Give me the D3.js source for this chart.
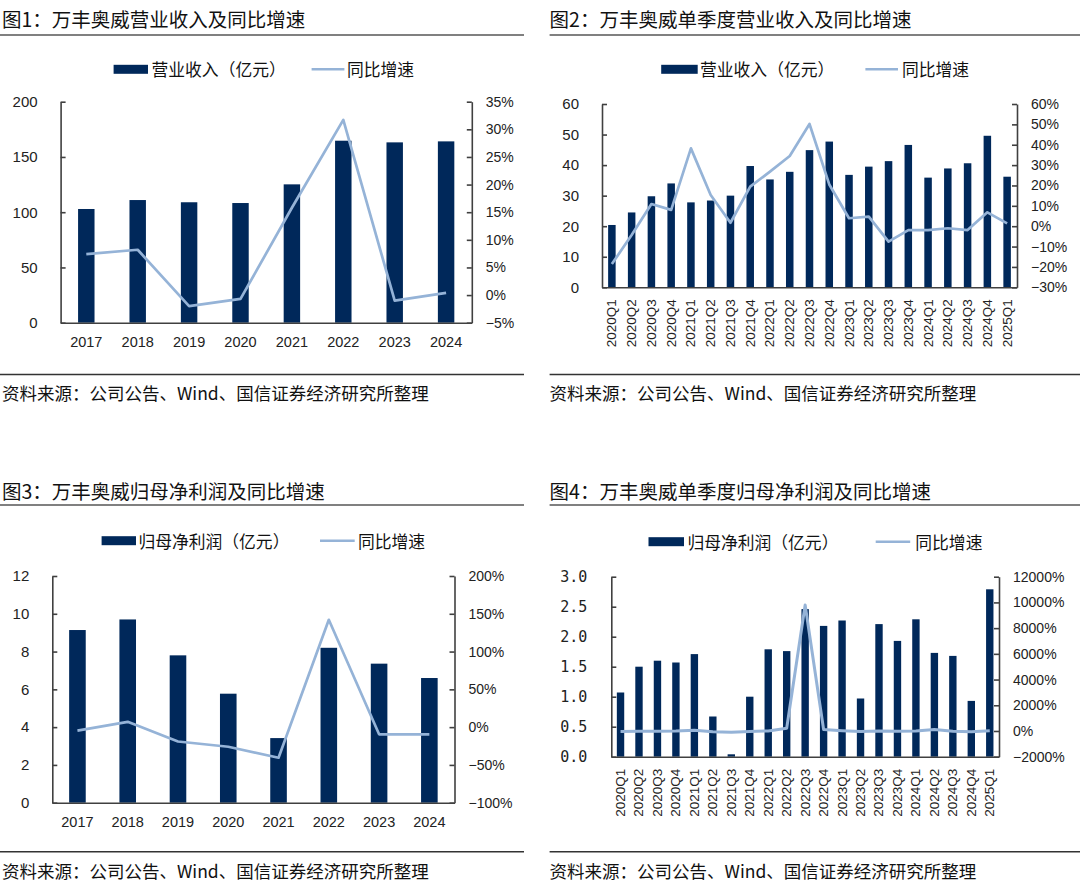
<!DOCTYPE html>
<html>
<head>
<meta charset="utf-8">
<script src="https://cdn.jsdelivr.net/npm/d3@7"></script>
<style>
  html, body { margin: 0; padding: 0; background: #ffffff; }
  svg { display: block; }
</style>
</head>
<body>
<script>
// ---------------- DATA ----------------
const years = ["2017", "2018", "2019", "2020", "2021", "2022", "2023", "2024"];
const quarters = ["2020Q1", "2020Q2", "2020Q3", "2020Q4", "2021Q1", "2021Q2", "2021Q3", "2021Q4",
  "2022Q1", "2022Q2", "2022Q3", "2022Q4", "2023Q1", "2023Q2", "2023Q3", "2023Q4",
  "2024Q1", "2024Q2", "2024Q3", "2024Q4", "2025Q1"];

// 图1 营业收入（亿元）及同比增速（%）
const revenueAnnual = [102.9, 111.0, 109.0, 108.3, 125.2, 164.7, 163.2, 164.1];
const revenueAnnualYoY = [7.4, 8.2, -2.0, -0.7, 15.8, 31.7, -1.0, 0.4];

// 图2 单季度营业收入（亿元）及同比增速（%）
const revenueQuarter = [20.4, 24.5, 29.8, 34.0, 27.8, 28.4, 30.0, 39.7, 35.3, 37.8, 44.9, 47.7,
  36.8, 39.5, 41.3, 46.6, 35.9, 38.9, 40.6, 49.6, 36.2];
const revenueQuarterYoY = [-18.6, -4.3, 10.9, 8.0, 38.2, 15.3, 1.7, 19.4, 26.8, 34.5, 50.2, 20.5,
  3.9, 4.7, -7.6, -1.9, -1.9, -1.0, -1.9, 6.8, 1.4];

// 图3 归母净利润（亿元）及同比增速（%）
const profitAnnual = [9.14, 9.70, 7.80, 5.77, 3.42, 8.20, 7.36, 6.60];
const profitAnnualYoY = [-4.7, 7.0, -19.0, -26.0, -40.5, 142.0, -9.5, -9.5];

// 图4 单季度归母净利润（亿元）及同比增速（%）
const profitQuarter = [1.07, 1.50, 1.60, 1.57, 1.71, 0.67, 0.04, 1.00, 1.79, 1.76, 2.46, 2.18,
  2.27, 0.97, 2.21, 1.93, 2.29, 1.73, 1.68, 0.93, 2.79];
const profitQuarterYoY = [-43, -27, -15, 5, 60, -55, -97, -36, 5, 220, 9800, 118,
  27, -45, -10, -11, 1, 120, -24, -52, 22];

// tick labels
const ticksLeft1 = [0, 50, 100, 150, 200];
const ticksRight1 = [-5, 0, 5, 10, 15, 20, 25, 30, 35];
const ticksLeft2 = [0, 10, 20, 30, 40, 50, 60];
const ticksRight2 = [-30, -20, -10, 0, 10, 20, 30, 40, 50, 60];
const ticksLeft3 = [0, 2, 4, 6, 8, 10, 12];
const ticksRight3 = [-100, -50, 0, 50, 100, 150, 200];
const ticksLeft4 = [0, 0.5, 1.0, 1.5, 2.0, 2.5, 3.0];
const ticksRight4 = [-2000, 0, 2000, 4000, 6000, 8000, 10000, 12000];

const titles = ["图1：万丰奥威营业收入及同比增速", "图2：万丰奥威单季度营业收入及同比增速",
  "图3：万丰奥威归母净利润及同比增速", "图4：万丰奥威单季度归母净利润及同比增速"];
const legendRevenue = "营业收入（亿元）";
const legendProfit = "归母净利润（亿元）";
const legendYoY = "同比增速";
const sourceText = "资料来源：公司公告、Wind、国信证券经济研究所整理";

// ---------------- STYLE ----------------
const BAR = "#00285a";
const LINE = "#95b3d7";
const AXIS = "#404040";
const CJK = "'Noto Sans CJK SC', 'Noto Sans', sans-serif";
const NUM = "'Liberation Sans', Arial, sans-serif";

const svg = d3.select("body").append("svg").attr("width", 1080).attr("height", 892);

const pctFmt = v => (v < 0 ? "\u2212" + Math.abs(v) : "" + v) + "%";

function panel(cfg) {
  const g = svg.append("g");

  // title + rule
  g.append("text").attr("x", cfg.titleX).attr("y", cfg.titleY)
    .attr("dominant-baseline", "central")
    .style("font-family", CJK).style("font-size", "19.5px").style("fill", "#111")
    .text(cfg.title);
  g.append("line").attr("x1", cfg.ruleX1).attr("x2", cfg.ruleX2)
    .attr("y1", cfg.ruleTop).attr("y2", cfg.ruleTop)
    .attr("stroke", "#808080").attr("stroke-width", 2);

  // bottom rule + source
  g.append("line").attr("x1", cfg.ruleX1).attr("x2", cfg.ruleX2)
    .attr("y1", cfg.ruleBottom).attr("y2", cfg.ruleBottom)
    .attr("stroke", "#333").attr("stroke-width", 1.6);
  g.append("text").attr("x", cfg.titleX).attr("y", cfg.sourceY)
    .attr("dominant-baseline", "central")
    .style("font-family", CJK).style("font-size", "17.5px").style("fill", "#111")
    .text(sourceText);

  // scales
  const x = d3.scaleBand().domain(cfg.cats).range([cfg.x0, cfg.x1]).padding(0);
  const yL = d3.scaleLinear().domain(cfg.leftDomain).range([cfg.y0, cfg.yTop]);
  const yR = d3.scaleLinear().domain(cfg.rightDomain).range([cfg.y0, cfg.yTop]);
  const bw = x.bandwidth() * cfg.barRatio;
  const xc = d => x(d) + x.bandwidth() / 2;

  // bars
  g.append("g").selectAll("rect").data(cfg.cats).join("rect")
    .attr("x", (d) => xc(d) - bw / 2)
    .attr("y", (d, i) => yL(cfg.bars[i]))
    .attr("width", bw)
    .attr("height", (d, i) => cfg.y0 - yL(cfg.bars[i]))
    .attr("fill", BAR);

  // line
  const line = d3.line().x((d, i) => xc(cfg.cats[i])).y(d => yR(d));
  g.append("path").datum(cfg.line).attr("d", line)
    .attr("fill", "none").attr("stroke", LINE).attr("stroke-width", cfg.lineWidth)
    .attr("stroke-linejoin", "round");

  // axes
  const axL = g.append("g").attr("transform", `translate(${cfg.x0},0)`)
    .call(d3.axisLeft(yL).tickValues(cfg.leftTicks).tickFormat(cfg.leftFmt)
      .tickSizeInner(-5).tickSizeOuter(0).tickPadding(cfg.leftPad));
  const axR = g.append("g").attr("transform", `translate(${cfg.x1},0)`)
    .call(d3.axisRight(yR).tickValues(cfg.rightTicks).tickFormat(pctFmt)
      .tickSizeInner(-5).tickSizeOuter(0).tickPadding(14));
  const axB = g.append("g").attr("transform", `translate(0,${cfg.y0})`)
    .call(d3.axisBottom(x).tickSize(0).tickFormat(""));
  [axL, axR, axB].forEach(a => {
    a.selectAll("path.domain").attr("stroke", AXIS).attr("stroke-width", 1.6);
    a.selectAll(".tick line").attr("stroke", AXIS).attr("stroke-width", 1.6);
  });
  axL.selectAll("text").style("font-family", cfg.leftFont || NUM).style("font-size", "15px").style("fill", "#222");
  axR.selectAll("text").style("font-family", NUM).style("font-size", "14px").style("fill", "#222");

  // category labels
  if (cfg.rotate) {
    g.append("g").selectAll("text").data(cfg.cats).join("text")
      .attr("transform", d => `translate(${xc(d)},${cfg.y0 + 12}) rotate(-90)`)
      .attr("text-anchor", "end").attr("dominant-baseline", "central")
      .style("font-family", NUM).style("font-size", "13.5px").style("fill", "#222")
      .text(d => d);
  } else {
    g.append("g").selectAll("text").data(cfg.cats).join("text")
      .attr("x", d => xc(d)).attr("y", cfg.y0 + 19)
      .attr("text-anchor", "middle").attr("dominant-baseline", "central")
      .style("font-family", NUM).style("font-size", "14.5px").style("fill", "#222")
      .text(d => d);
  }

  // legend
  const L = cfg.legend;
  g.append("rect").attr("x", L.rectX).attr("y", L.y - 4.5).attr("width", L.rectW).attr("height", 9)
    .attr("fill", BAR);
  g.append("text").attr("x", L.text1X).attr("y", L.y).attr("dominant-baseline", "central")
    .style("font-family", CJK).style("font-size", "16.8px").style("fill", "#111").text(cfg.barName);
  g.append("line").attr("x1", L.lineX1).attr("x2", L.lineX2).attr("y1", L.y).attr("y2", L.y)
    .attr("stroke", LINE).attr("stroke-width", 2.6);
  g.append("text").attr("x", L.text2X).attr("y", L.y).attr("dominant-baseline", "central")
    .style("font-family", CJK).style("font-size", "16.8px").style("fill", "#111").text(legendYoY);
}

panel({
  title: titles[0], titleX: 2, titleY: 18.5, ruleX1: 0, ruleX2: 524, ruleTop: 35, ruleBottom: 374.5, sourceY: 392.5,
  cats: years, bars: revenueAnnual, line: revenueAnnualYoY, barName: legendRevenue,
  x0: 60.6, x1: 471.8, yTop: 101.7, y0: 322.7,
  leftDomain: [0, 200], rightDomain: [-5, 35], leftTicks: ticksLeft1, rightTicks: ticksRight1,
  leftFmt: d => "" + d, leftPad: 23, barRatio: 0.32, lineWidth: 2.7, rotate: false,
  legend: { y: 69.3, rectX: 113.6, rectW: 34.4, text1X: 151.5, lineX1: 311.6, lineX2: 344.4, text2X: 347 }
});

panel({
  title: titles[1], titleX: 549.6, titleY: 18.5, ruleX1: 549.6, ruleX2: 1080, ruleTop: 35, ruleBottom: 374.5, sourceY: 392.5,
  cats: quarters, bars: revenueQuarter, line: revenueQuarterYoY, barName: legendRevenue,
  x0: 602, x1: 1017, yTop: 104, y0: 287.3,
  leftDomain: [0, 60], rightDomain: [-30, 60], leftTicks: ticksLeft2, rightTicks: ticksRight2,
  leftFmt: d => "" + d, leftPad: 23, barRatio: 0.38, lineWidth: 2.7, rotate: true,
  legend: { y: 69.3, rectX: 661.2, rectW: 36.5, text1X: 700, lineX1: 865.4, lineX2: 898, text2X: 902 }
});

panel({
  title: titles[2], titleX: 2, titleY: 490, ruleX1: 0, ruleX2: 524, ruleTop: 505, ruleBottom: 851.7, sourceY: 870,
  cats: years, bars: profitAnnual, line: profitAnnualYoY, barName: legendProfit,
  x0: 52.3, x1: 454.5, yTop: 576, y0: 802.7,
  leftDomain: [0, 12], rightDomain: [-100, 200], leftTicks: ticksLeft3, rightTicks: ticksRight3,
  leftFmt: d => "" + d, leftPad: 23, barRatio: 0.33, lineWidth: 2.7, rotate: false,
  legend: { y: 540.7, rectX: 101.6, rectW: 34.4, text1X: 138.4, lineX1: 320, lineX2: 354.7, text2X: 358 }
});

panel({
  title: titles[3], titleX: 549.6, titleY: 490, ruleX1: 549.6, ruleX2: 1080, ruleTop: 505, ruleBottom: 851.7, sourceY: 870,
  cats: quarters, bars: profitQuarter, line: profitQuarterYoY, barName: legendProfit,
  x0: 611.3, x1: 999, yTop: 576.7, y0: 756.7,
  leftDomain: [0, 3], rightDomain: [-2000, 12000], leftTicks: ticksLeft4, rightTicks: ticksRight4,
  leftFmt: d3.format(".1f"), leftPad: 24, leftFont: "'DejaVu Sans Mono', monospace",
  barRatio: 0.4, lineWidth: 3, rotate: true,
  legend: { y: 541.7, rectX: 648.5, rectW: 35.5, text1X: 687.4, lineX1: 875.7, lineX2: 910.2, text2X: 915.3 }
});
</script>
</body>
</html>
